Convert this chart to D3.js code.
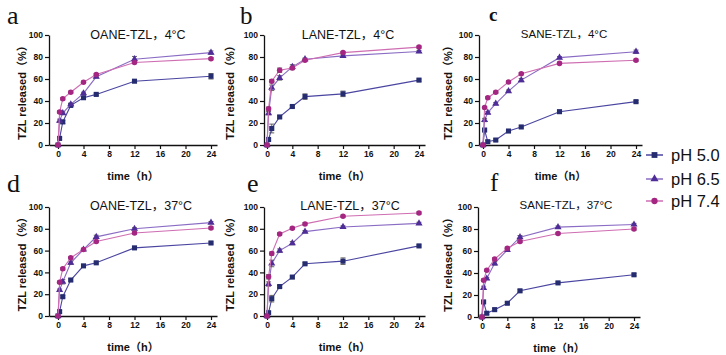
<!DOCTYPE html>
<html><head><meta charset="utf-8">
<script src="https://cdn.jsdelivr.net/npm/d3@7"></script>
<style>
html,body{margin:0;padding:0;background:#fff;}
svg text{font-family:"Liberation Sans",Arial,"Noto Sans CJK SC",sans-serif;}
</style></head>
<body><svg id="chart" width="726" height="355"></svg>
<script>
const times = [0, 0.25, 0.75, 2, 4, 6, 12, 24];
const xTicks = [0, 4, 8, 12, 16, 20, 24];
const yTicks = [0, 20, 40, 60, 80, 100];
const seriesNames = ["pH 5.0", "pH 6.5", "pH 7.4"];
const panelLetters = ["a", "b", "c", "d", "e", "f"];
const panelTitles = ["OANE-TZL，4°C", "LANE-TZL，4°C", "SANE-TZL，4°C", "OANE-TZL，37°C", "LANE-TZL，37°C", "SANE-TZL，37°C"];

// released % per panel: [pH5.0, pH6.5, pH7.4]
const a_ph50 = [0, 6, 21, 36, 43, 46, 58, 62.5];
const a_ph65 = [0, 22, 29, 37, 47, 62, 78, 84];
const a_ph74 = [0, 30, 42, 48, 57, 64, 75, 78.5];
const b_ph50 = [0, 5, 15, 25.5, 35, 44, 46.5, 59];
const b_ph65 = [0, 29, 52, 61, 71, 78, 81, 85];
const b_ph74 = [0, 33, 58, 68, 70, 77, 84, 89];
const c_ph50 = [0, 13.6, 3, 4.5, 12.7, 16.4, 30.3, 39.4];
const c_ph65 = [0, 22.7, 29.4, 37.6, 49, 59, 79.4, 84.8];
const c_ph74 = [0, 34, 43, 47.9, 57.3, 64.8, 74.2, 77];
const d_ph50 = [0, 4, 17.7, 33, 46, 48.8, 62.5, 67];
const d_ph65 = [0, 23.8, 31.4, 48.8, 61, 72.6, 80, 85.7];
const d_ph74 = [0, 31, 43.3, 53.4, 61, 68.3, 76.2, 80.8];
const e_ph50 = [0, 3, 15.9, 27, 35.7, 47.9, 50.3, 64.3];
const e_ph65 = [0, 29.3, 48.2, 60, 66.8, 77.4, 81.7, 85];
const e_ph74 = [0, 36, 57.3, 75.3, 80.5, 84.5, 91.5, 94.5];
const f_ph50 = [0, 13.7, 3.4, 6.7, 12.5, 23.8, 31, 38.4];
const f_ph65 = [0, 26.5, 35, 48.8, 61, 72.6, 81.7, 84.1];
const f_ph74 = [0, 33.5, 42.4, 52.7, 62.5, 68.6, 75.9, 80];

// error bars (SD)
const a_err50 = [0, 1, 1.5, 1, 1, 1, 1, 2.5];
const a_err65 = [0, 1.5, 1, 1, 1, 1, 2.5, 1.5];
const a_err74 = [0, 1, 1, 1, 1, 1, 1, 1];
const b_err50 = [0, 1, 4, 1, 1, 2.5, 2.5, 1];
const b_err65 = [0, 1.5, 2.5, 2, 2, 1, 1, 1];
const b_err74 = [0, 1.5, 1.5, 2, 1.5, 1, 1, 1];
const c_err50 = [0, 1, 1, 1, 1, 1, 1, 1];
const c_err65 = [0, 1.5, 1, 1, 1, 1.5, 1, 1.5];
const c_err74 = [0, 1, 1, 1, 1, 1, 1, 1];
const d_err50 = [0, 1, 1, 1, 1, 1, 1, 1];
const d_err65 = [0, 1, 2, 1.5, 1, 1.5, 1, 1];
const d_err74 = [0, 1, 1, 1, 1, 1, 1, 1];
const e_err50 = [0, 1, 3, 1, 1, 1, 3, 1];
const e_err65 = [0, 2, 3, 1.5, 1.5, 1, 1, 1];
const e_err74 = [0, 2, 1.5, 1, 1, 1, 1, 1];
const f_err50 = [0, 1, 1, 1, 1, 1, 1, 1];
const f_err65 = [0, 1.5, 1, 1.5, 1, 1.5, 1, 1];
const f_err74 = [0, 1, 1, 1, 1, 1, 1, 1];

const panelData = [
  [a_ph50, a_ph65, a_ph74], [b_ph50, b_ph65, b_ph74], [c_ph50, c_ph65, c_ph74],
  [d_ph50, d_ph65, d_ph74], [e_ph50, e_ph65, e_ph74], [f_ph50, f_ph65, f_ph74]
];
const panelErr = [
  [a_err50, a_err65, a_err74], [b_err50, b_err65, b_err74], [c_err50, c_err65, c_err74],
  [d_err50, d_err65, d_err74], [e_err50, e_err65, e_err74], [f_err50, f_err65, f_err74]
];

// layout (pixels)
const layout = [
  {ax:49, x0:58, x24:211, xe:217, yt:35, yb:145, lx:22, letter:[7,24], title:138, tb:39, tfs:12.5, lfs:26, lw:"normal"},
  {ax:264, x0:267, x24:419, xe:425, yt:35, yb:145, lx:230, letter:[240,24], title:348, tb:39, tfs:12.5, lfs:25, lw:"normal"},
  {ax:479, x0:483, x24:636, xe:642, yt:35, yb:145, lx:448, letter:[489,21], title:564, tb:38, tfs:11.5, lfs:19, lw:"bold"},
  {ax:49, x0:58, x24:211, xe:217, yt:207, yb:316, lx:22, letter:[7,192], title:141, tb:210, tfs:12.5, lfs:26, lw:"normal"},
  {ax:264, x0:267, x24:419, xe:425, yt:207, yb:316, lx:230, letter:[247,192], title:350, tb:210, tfs:12.5, lfs:26, lw:"normal"},
  {ax:478, x0:482, x24:634, xe:640, yt:207, yb:317, lx:448, letter:[490,191], title:566, tb:209, tfs:11.5, lfs:25, lw:"normal"}
];

const markColors = ["#262c70", "#4f2d98", "#a52682"];
const lineColors = ["#4a45a0", "#8a6cc4", "#cf6db2"];
const shapes = [d3.symbolSquare, d3.symbolTriangle, d3.symbolCircle];
const sizes = [26, 22, 24];

const svg = d3.select("#chart");

layout.forEach((L, pi) => {
  const g = svg.append("g");
  const base = d3.scaleLinear().domain([0, 24]).range([L.x0, L.x24]);
  const x = d3.scaleLinear().domain([base.invert(L.ax), base.invert(L.xe)]).range([L.ax, L.xe]);
  const y = d3.scaleLinear().domain([0, 100]).range([L.yb, L.yt]);

  const xa = g.append("g").attr("transform", `translate(0,${L.yb})`)
    .call(d3.axisBottom(x).tickValues(xTicks).tickSize(4).tickSizeOuter(0).tickPadding(2));
  const ya = g.append("g").attr("transform", `translate(${L.ax},0)`)
    .call(d3.axisLeft(y).tickValues(yTicks).tickSize(4).tickSizeOuter(0).tickPadding(2));
  [xa, ya].forEach(a => {
    a.selectAll("path.domain").attr("stroke", "#111").attr("stroke-width", 1.3);
    a.selectAll(".tick line").attr("stroke", "#111").attr("stroke-width", 1.2);
    a.selectAll(".tick text").attr("fill", "#111").style("font-size", "8.5px").style("font-weight", "bold");
  });

  // axis titles
  g.append("text").attr("x", (L.ax + L.xe) / 2).attr("y", L.yb + 35)
    .attr("text-anchor", "middle").style("font-size", "11px").style("font-weight", "bold").attr("fill", "#111")
    .text("time（h）");
  g.append("text").attr("transform", `translate(${L.lx},${(L.yt + L.yb) / 2}) rotate(-90)`)
    .attr("text-anchor", "middle").attr("dy", "0.35em")
    .style("font-size", "11px").style("font-weight", "bold").attr("fill", "#111")
    .text("TZL released（%）");

  g.append("text").attr("x", L.title).attr("y", L.tb).attr("text-anchor", "middle")
    .style("font-size", L.tfs + "px").attr("fill", "#111").text(panelTitles[pi]);
  g.append("text").attr("x", L.letter[0]).attr("y", L.letter[1])
    .style("font-family", "'Liberation Serif','Times New Roman',serif")
    .style("font-size", L.lfs + "px").style("font-weight", L.lw).attr("fill", "#111")
    .text(panelLetters[pi]);

  const line = d3.line().x((d, i) => x(times[i])).y(d => y(d));
  panelData[pi].forEach((vals, si) => {
    const sg = g.append("g");
    sg.append("path").datum(vals).attr("d", line).attr("fill", "none")
      .attr("stroke", lineColors[si]).attr("stroke-width", 1.1);
    const errs = panelErr[pi][si];
    vals.forEach((v, i) => {
      const e = errs[i];
      if (e > 0) {
        const cx = x(times[i]);
        sg.append("path")
          .attr("d", `M${cx},${y(v + e)}V${y(v - e)}M${cx - 2.5},${y(v + e)}H${cx + 2.5}M${cx - 2.5},${y(v - e)}H${cx + 2.5}`)
          .attr("stroke", "#555").attr("stroke-width", 0.9).attr("fill", "none");
      }
    });
    sg.selectAll("path.pt").data(vals).join("path").attr("class", "pt")
      .attr("transform", (d, i) => `translate(${x(times[i])},${y(d)})`)
      .attr("d", d3.symbol().type(shapes[si]).size(sizes[si]))
      .attr("fill", markColors[si]);
  });
});

// legend
const legY = [155, 179, 201];
seriesNames.forEach((name, si) => {
  const lg = svg.append("g").attr("transform", `translate(0,${legY[si]})`);
  lg.append("line").attr("x1", 646).attr("x2", 663).attr("y1", 0).attr("y2", 0)
    .attr("stroke", lineColors[si]).attr("stroke-width", 1.5);
  lg.append("path").attr("transform", "translate(654.5,0)")
    .attr("d", d3.symbol().type(shapes[si]).size(sizes[si] * 1.3)).attr("fill", markColors[si]);
  lg.append("text").attr("x", 671).attr("y", 0).attr("dy", "0.36em")
    .style("font-size", "16.5px").attr("fill", "#111").text(name);
});
</script>
</body></html>
